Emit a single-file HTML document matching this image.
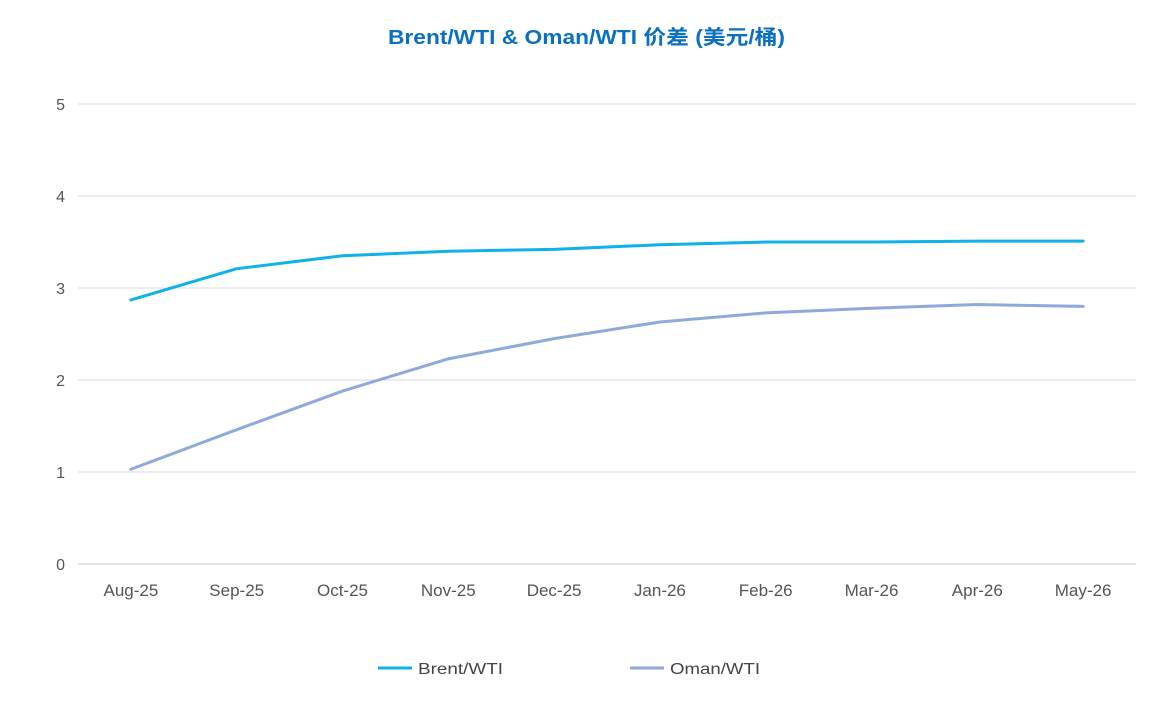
<!DOCTYPE html>
<html><head><meta charset="utf-8"><style>
html,body{margin:0;padding:0;background:#fff;}
svg{display:block;font-family:"Liberation Sans","Noto Sans CJK SC",sans-serif;}
</style></head><body>
<svg id="chart" width="1172" height="727" viewBox="0 0 1172 727">
<text x="388" y="44" textLength="397" lengthAdjust="spacingAndGlyphs" font-size="20" font-weight="bold" fill="#0a70c0">Brent/WTI &amp; Oman/WTI 价差 (美元/桶)</text>
<g id="grid"></g><g id="axes"></g><g id="series"></g>
<g>
<g><line x1="378" y1="668" x2="412" y2="668" stroke="#10b0e8" stroke-width="3"/><text x="418" y="674" font-size="16" textLength="85" lengthAdjust="spacingAndGlyphs" fill="#444">Brent/WTI</text></g>
<g><line x1="630" y1="668" x2="664" y2="668" stroke="#8eaadb" stroke-width="3"/><text x="670" y="674" font-size="16" textLength="90" lengthAdjust="spacingAndGlyphs" fill="#444">Oman/WTI</text></g>
</g>
</svg>
<script>
const categories=["Aug-25","Sep-25","Oct-25","Nov-25","Dec-25","Jan-26","Feb-26","Mar-26","Apr-26","May-26"];
const brentValues=[2.87,3.21,3.35,3.40,3.42,3.47,3.50,3.50,3.51,3.51];
const omanValues=[1.03,1.46,1.88,2.23,2.45,2.63,2.73,2.78,2.82,2.80];
const yTicks=[0,1,2,3,4,5];
const NS="http://www.w3.org/2000/svg";
const L=78,R=1136,T=104,B=564,yMax=5;
const band=(R-L)/categories.length;
const xs=i=>L+band*(i+0.5);
const ys=v=>B-(v/yMax)*(B-T);
const g=document.getElementById('grid'),ax=document.getElementById('axes'),sr=document.getElementById('series');
function mk(t,a,p){const e=document.createElementNS(NS,t);for(const k in a)e.setAttribute(k,a[k]);p.appendChild(e);return e;}
yTicks.forEach(v=>{
 const l=mk('line',{x1:L,x2:R,y1:ys(v),y2:ys(v),stroke:v===0?'#c8c8c8':'#d9d9d9','stroke-width':1},g);
 
 
 const t=mk('text',{x:65,y:ys(v)+6,'text-anchor':'end','font-size':16,fill:'#555'},ax);
 t.textContent=v;
 
 
});
categories.forEach((c,i)=>{
 const t=mk('text',{x:xs(i),y:596,'text-anchor':'middle','font-size':17,fill:'#555'},ax);
 t.textContent=c;
 
 
});
function line(vals,color,name){
 const p=mk('polyline',{points:vals.map((v,i)=>xs(i)+','+ys(v)).join(' '),fill:'none',stroke:color,'stroke-width':3,'stroke-linejoin':'round','stroke-linecap':'round'},sr);
 
 
}
line(omanValues,'#8eaadb','oman-wti-line');
line(brentValues,'#10b0e8','brent-wti-line');
</script>
</body></html>
